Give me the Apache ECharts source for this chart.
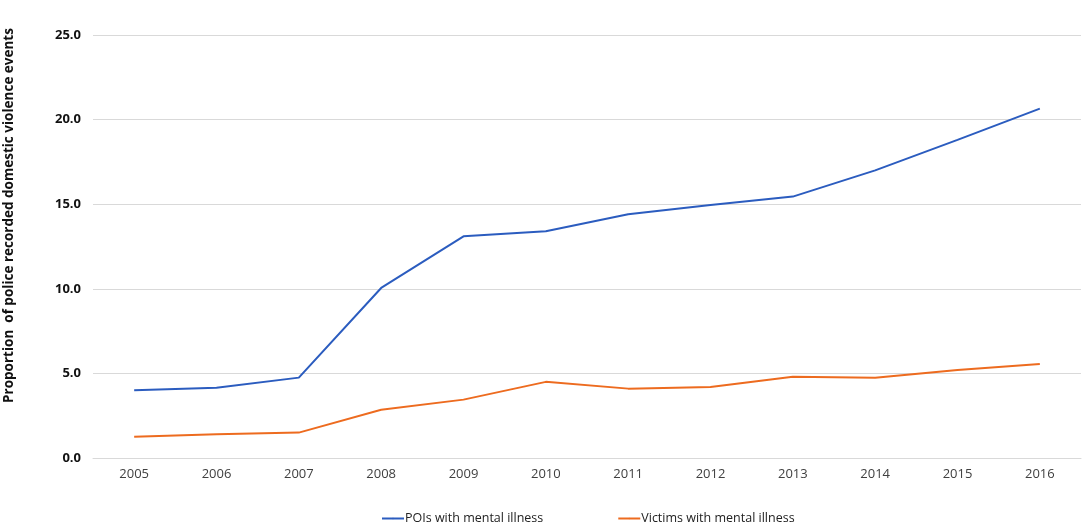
<!DOCTYPE html>
<html>
<head>
<meta charset="utf-8">
<script src="https://cdn.jsdelivr.net/npm/echarts@6/dist/echarts.min.js"></script>
<style>
  html, body { margin: 0; padding: 0; background: #fff; }
  #chart { width: 1084px; height: 527px; }
</style>
</head>
<body>
<div id="chart"></div>
<script>
// years on the x axis
const years = ['2005', '2006', '2007', '2008', '2009', '2010', '2011', '2012', '2013', '2014', '2015', '2016'];
// proportion of DV events
const poiValues = [4.0, 4.15, 4.75, 10.05, 13.1, 13.4, 14.4, 14.95, 15.45, 17.0, 18.8, 20.65];
const victimValues = [1.25, 1.4, 1.5, 2.85, 3.45, 4.5, 4.1, 4.2, 4.8, 4.75, 5.2, 5.55];

const font = '"Open Sans", "Noto Sans", sans-serif';

const chart = echarts.init(document.getElementById('chart'));
chart.setOption({
  animation: false,
  textStyle: { fontFamily: font },
  grid: { left: 93, right: 3, top: 35, bottom: 69, outerBoundsMode: 'none', containLabel: false },
  legend: {
    bottom: -3,
    left: 376,
    itemWidth: 22,
    itemHeight: 2,
    itemGap: 74,
    textStyle: { fontSize: 12.5, color: '#222', fontFamily: font, padding: [0, 0, 0, -4] },
    data: ['POIs with mental illness', 'Victims with mental illness']
  },
  xAxis: {
    type: 'category',
    data: years,
    boundaryGap: true,
    axisLine: { show: true, lineStyle: { color: '#d9d9d9' } },
    axisTick: { show: false },
    axisLabel: { color: '#404040', fontSize: 13, margin: 10 }
  },
  yAxis: {
    type: 'value',
    min: 0,
    max: 25,
    interval: 5,
    name: 'Proportion  of police recorded domestic violence events',
    nameLocation: 'middle',
    nameRotate: 90,
    nameGap: 77,
    nameTextStyle: { fontWeight: 'bold', fontSize: 13.5, color: '#111', padding: [0, 0, 0, 62] },
    axisLine: { show: false },
    axisTick: { show: false },
    axisLabel: {
      fontWeight: 'bold',
      fontSize: 13,
      color: '#111',
      margin: 12,
      formatter: v => v.toFixed(1)
    },
    splitLine: { lineStyle: { color: '#d9d9d9' } }
  },
  series: [
    {
      name: 'POIs with mental illness',
      type: 'line',
      data: poiValues,
      symbol: 'none',
      lineStyle: { color: '#2b5cbf', width: 2 },
      itemStyle: { color: '#2b5cbf' }
    },
    {
      name: 'Victims with mental illness',
      type: 'line',
      data: victimValues,
      symbol: 'none',
      lineStyle: { color: '#ed6b1f', width: 2 },
      itemStyle: { color: '#ed6b1f' }
    }
  ]
});
</script>
</body>
</html>
